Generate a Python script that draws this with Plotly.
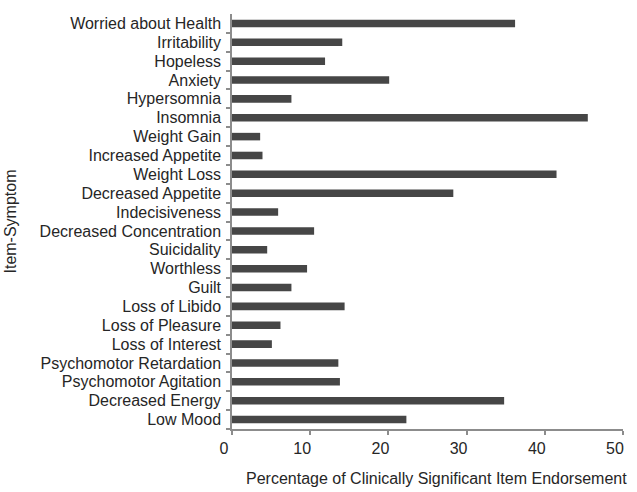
import plotly.graph_objects as go

# Symptom items, listed top to bottom as displayed
symptoms = [
    "Worried about Health", "Irritability", "Hopeless", "Anxiety",
    "Hypersomnia", "Insomnia", "Weight Gain", "Increased Appetite",
    "Weight Loss", "Decreased Appetite", "Indecisiveness",
    "Decreased Concentration", "Suicidality", "Worthless", "Guilt",
    "Loss of Libido", "Loss of Pleasure", "Loss of Interest",
    "Psychomotor Retardation", "Psychomotor Agitation",
    "Decreased Energy", "Low Mood",
]

# Percentage of clinically significant endorsement per item
endorsement_pct = [
    36.2, 14.1, 11.9, 20.1,
    7.6, 45.5, 3.6, 3.9,
    41.5, 28.3, 5.9,
    10.5, 4.5, 9.6, 7.6,
    14.4, 6.2, 5.1,
    13.6, 13.8,
    34.8, 22.3,
]

x_ticks = [0, 10, 20, 30, 40, 50]

FONT = "Liberation Sans, Arial, sans-serif"
AXIS_GREY = "#8c8c8c"
TEXT = "#262626"
FS = 16

fig = go.Figure(
    go.Bar(
        x=endorsement_pct,
        y=symptoms,
        orientation="h",
        marker=dict(color="#464646", line=dict(width=0)),
    )
)

fig.update_layout(
    width=637,
    height=492,
    margin=dict(l=232, r=14, t=14, b=63, autoexpand=False),
    paper_bgcolor="white",
    plot_bgcolor="white",
    bargap=0.6,
    showlegend=False,
    font=dict(family=FONT, size=FS, color=TEXT),
    annotations=[
        dict(
            text="Percentage of Clinically Significant Item Endorsement",
            xref="paper", yref="paper",
            x=0.522, y=0,
            xanchor="center", yanchor="middle",
            yshift=-49,
            showarrow=False,
            font=dict(family=FONT, size=FS, color=TEXT),
        )
    ],
)

fig.update_xaxes(
    range=[0, 50],
    tickvals=x_ticks,
    ticktext=[str(v) for v in x_ticks],
    automargin=False,
    showgrid=False,
    zeroline=False,
    showline=True,
    linecolor=AXIS_GREY,
    linewidth=1.5,
    ticks="outside",
    ticklen=4,
    tickwidth=1.5,
    tickcolor=AXIS_GREY,
    ticklabelshift=-8,
    ticklabelstandoff=0,
    tickfont=dict(family=FONT, size=FS, color=TEXT),
)

fig.update_yaxes(
    categoryorder="array",
    categoryarray=symptoms[::-1],
    tickmode="array",
    tickvals=symptoms,
    ticktext=symptoms,
    automargin=False,
    autorange=True,
    showgrid=False,
    zeroline=False,
    showline=True,
    linecolor=AXIS_GREY,
    linewidth=1.5,
    ticks="outside",
    tickson="boundaries",
    ticklen=4,
    tickwidth=1.5,
    tickcolor=AXIS_GREY,
    ticklabelstandoff=6,
    tickfont=dict(family=FONT, size=FS, color=TEXT),
    title=dict(text="Item-Symptom", standoff=19,
               font=dict(family=FONT, size=FS, color=TEXT)),
)

fig.write_html("out.html")
